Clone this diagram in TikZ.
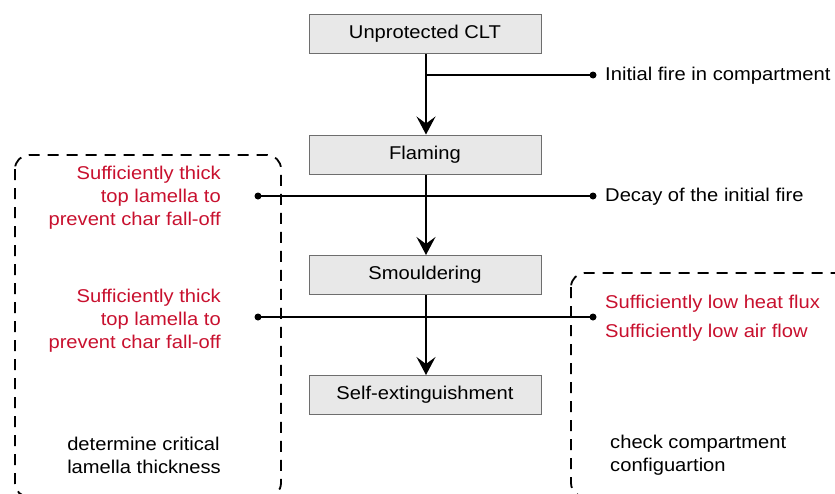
\documentclass[tikz,border=0pt]{standalone}
\usepackage{fontspec}
\setmainfont[FakeStretch=1.09]{Liberation Sans}
\usetikzlibrary{arrows.meta}
\definecolor{redtxt}{RGB}{200,16,46}
\definecolor{boxfill}{RGB}{232,232,232}
\definecolor{boxdraw}{RGB}{110,110,110}
\begin{document}
\begin{tikzpicture}[x=1pt,y=-1pt,
  stagebox/.style={draw=boxdraw,fill=boxfill,line width=1pt,minimum width=232pt,minimum height=39pt,inner sep=0pt,font=\fontsize{18.5}{20}\selectfont},
  conn/.style={line width=1.6pt},
  flow/.style={conn,-{Stealth[length=18pt,width=19pt,inset=7pt]}},
  dotend/.style={circle,fill=black,inner sep=0pt,minimum size=7pt},
  lbl/.style={font=\fontsize{18.5}{23}\selectfont,inner sep=0pt},
  dashbox/.style={line width=1.8pt,dash pattern=on 11pt off 8pt,rounded corners=14pt}]
\useasboundingbox (0,0) rectangle (835,493);
% dashed groups
\draw[dashbox] (15,155) rectangle (281,497);
\draw[dashbox] (571,273) rectangle (850,497);
% stages
\node[stagebox] (clt) at (425,34) {Unprotected CLT};
\node[stagebox] (flam) at (425,154.5) {Flaming};
\node[stagebox] (smou) at (425,275) {Smouldering};
\node[stagebox] (self) at (425,395) {Self-extinguishment};
% dots
\node[dotend] (d1r) at (593,75) {};
\node[dotend] (d2l) at (258,196) {};
\node[dotend] (d2r) at (593,196) {};
\node[dotend] (d3l) at (258,317) {};
\node[dotend] (d3r) at (593,317) {};
\coordinate (j1) at (426,75);
% flows
\draw[flow] (clt.south -| 426,0) -- (flam.north -| 426,0);
\draw[flow] (flam.south -| 426,0) -- (smou.north -| 426,0);
\draw[flow] (smou.south -| 426,0) -- (self.north -| 426,0);
\draw[conn] (j1) -- (d1r.center);
\draw[conn] (d2l.center) -- (d2r.center);
\draw[conn] (d3l.center) -- (d3r.center);
% labels
\node[lbl,anchor=west] (t1) at (605,76) {Initial fire in compartment};
\node[lbl,anchor=west] (t2) at (605,197) {Decay of the initial fire};
\node[lbl,anchor=east,align=right,text=redtxt] (t3) at (221,198) {Sufficiently thick\\top lamella to\\prevent char fall-off};
\node[lbl,anchor=east,align=right,text=redtxt] (t4) at (221,321) {Sufficiently thick\\top lamella to\\prevent char fall-off};
\node[lbl,anchor=west,align=left,text=redtxt,font=\fontsize{18.5}{29}\selectfont] (t5) at (605,318) {Sufficiently low heat flux\\Sufficiently low air flow};
\node[lbl,anchor=east,align=left] (t6) at (221,455) {determine critical\\lamella thickness};
\node[lbl,anchor=west,align=left] (t7) at (610,455) {check compartment\\configuartion};
\end{tikzpicture}
\end{document}
